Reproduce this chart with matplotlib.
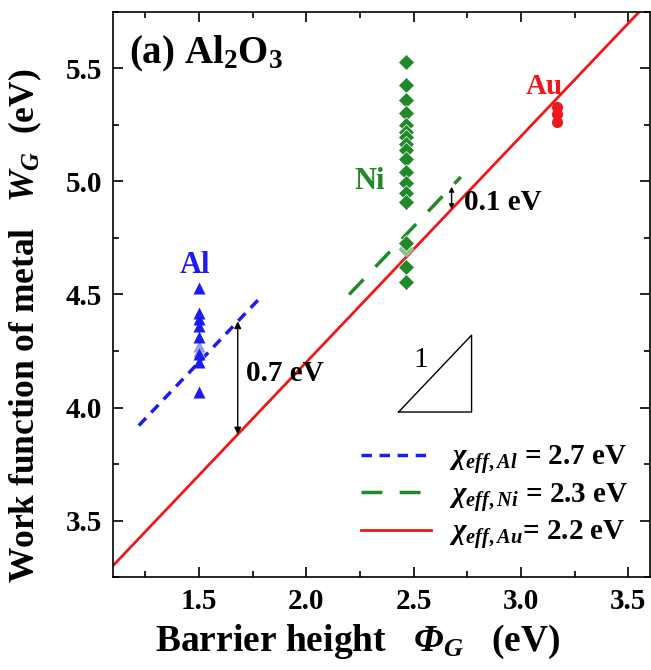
#!/usr/bin/env python3

import matplotlib.pyplot as plt
import numpy as np
from matplotlib.ticker import MultipleLocator

plt.rcParams['font.family'] = ['Liberation Serif', 'DejaVu Serif']
plt.rcParams['font.weight'] = 'bold'
plt.rcParams['axes.labelweight'] = 'bold'
plt.rcParams['mathtext.fontset'] = 'custom'
plt.rcParams['mathtext.rm'] = 'Liberation Serif:bold'
plt.rcParams['mathtext.it'] = 'Liberation Serif:italic:bold'
plt.rcParams['mathtext.bf'] = 'Liberation Serif:bold'
plt.rcParams['mathtext.bfit'] = 'Liberation Serif:italic:bold'

# measured work functions vs barrier height
al_phi = 1.5
al_w = [4.53, 4.42, 4.39, 4.36, 4.31, 4.235, 4.20, 4.07]
al_w_light = [4.27, 4.25]
ni_phi = 2.465
ni_w = [5.53, 5.425, 5.36, 5.305, 5.25, 5.22, 5.195, 5.165, 5.14, 5.10,
        5.04, 4.995, 4.95, 4.91, 4.73, 4.62, 4.555]
ni_w_light = [4.70]
au_phi = 3.17
au_w = [5.33, 5.30, 5.265]

# effective electron affinities (W = phi + chi)
chi_al, chi_ni, chi_au = 2.7, 2.3, 2.2
al_range = [1.22, 1.78]
ni_range = [2.2, 2.72]
au_range = [1.1, 3.6]

blue = '#1c1cf0'
green = '#22892a'
red = '#f01818'

fig = plt.figure(figsize=(6.51, 6.70), dpi=100)
ax = fig.add_axes([0.1736, 0.1388, 0.8245, 0.8433])

x = np.array(al_range)
ax.plot(x, x + chi_al, color=blue, lw=2.5, dashes=(3, 2.2),
        label=r'$\chi_{eff,Al}$ = 2.7 eV')
x = np.array(ni_range)
ax.plot(x, x + chi_ni, color=green, lw=2.5, dashes=(6, 5),
        label=r'$\chi_{eff,Ni}$ = 2.3 eV')
x = np.array(au_range)
ax.plot(x, x + chi_au, color=red, lw=2, label=r'$\chi_{eff,Au}$= 2.2 eV')

ax.plot([al_phi] * len(al_w_light), al_w_light, '^', color='#9a9ae8', ms=9, mec='none')
ax.plot([al_phi] * len(al_w), al_w, '^', color=blue, ms=9, mec='none')
ax.plot([ni_phi] * len(ni_w_light), ni_w_light, 'D', color='#8cc08c', ms=8.5, mec='none')
ax.plot([ni_phi] * len(ni_w), ni_w, 'D', color=green, ms=8.5, mec='white', mew=0.5)
ax.plot([au_phi] * len(au_w), au_w, 'o', color=red, ms=8, mec='none')

ax.text(1.48, 4.63, 'Al', color=blue, fontsize=22, ha='center', va='center')
ax.text(2.295, 5.0, 'Ni', color=green, fontsize=22, ha='center', va='center')
ax.text(3.11, 5.42, 'Au', color=red, fontsize=21, ha='center', va='center')

# gap arrows
xa = 1.681
ax.annotate('', xy=(xa, xa + chi_au), xytext=(xa, xa + chi_al),
            arrowprops=dict(arrowstyle='<|-|>', color='black', lw=1,
                            mutation_scale=10, shrinkA=0, shrinkB=0))
ax.text(1.72, 4.15, '0.7 eV', fontsize=21, va='center')
xb = 2.677
ax.annotate('', xy=(xb, xb + chi_au), xytext=(xb, xb + chi_ni),
            arrowprops=dict(arrowstyle='<|-|>', color='black', lw=1,
                            mutation_scale=7, shrinkA=0, shrinkB=0))
ax.text(2.735, 4.905, '0.1 eV', fontsize=21, va='center')

# slope triangle
tx = [2.43, 2.77, 2.77, 2.43]
ty = [3.98, 3.98, 4.32, 3.98]
ax.plot(tx, ty, color='black', lw=1)
ax.text(2.535, 4.21, '1', fontsize=21, fontweight='normal', ha='center', va='center')

ax.text(0.03, 0.925, r'(a) Al$_2$O$_3$', transform=ax.transAxes,
        fontsize=28, va='center')

ax.set_xlim(1.1, 3.6)
ax.set_ylim(3.25, 5.75)
ax.xaxis.set_major_locator(MultipleLocator(0.5))
ax.xaxis.set_minor_locator(MultipleLocator(0.25))
ax.yaxis.set_major_locator(MultipleLocator(0.5))
ax.yaxis.set_minor_locator(MultipleLocator(0.25))
ax.tick_params(which='both', direction='in', top=True, right=True,
               labelsize=21, width=1.2, pad=8)
ax.tick_params(which='major', length=7)
ax.tick_params(which='minor', length=4)
for s in ax.spines.values():
    s.set_linewidth(1.2)

ax.set_xlabel(r'Barrier height   $\mathbfit{\Phi}_G$   (eV)', fontsize=27)
ax.set_ylabel(r'Work function of metal   $W_G$  (eV)', fontsize=25.5)
ax.xaxis.label.set_va('center')
ax.yaxis.label.set_va('center')
ax.xaxis.set_label_coords(0.455, -0.115)
ax.yaxis.set_label_coords(-0.164, 0.444)

ax.legend(loc='lower right', frameon=False, fontsize=21, handlelength=2.4,
          handletextpad=0.6, labelspacing=0.15, borderpad=0,
          bbox_to_anchor=(0.987, 0.02))

fig.savefig('out.png', dpi=100)
